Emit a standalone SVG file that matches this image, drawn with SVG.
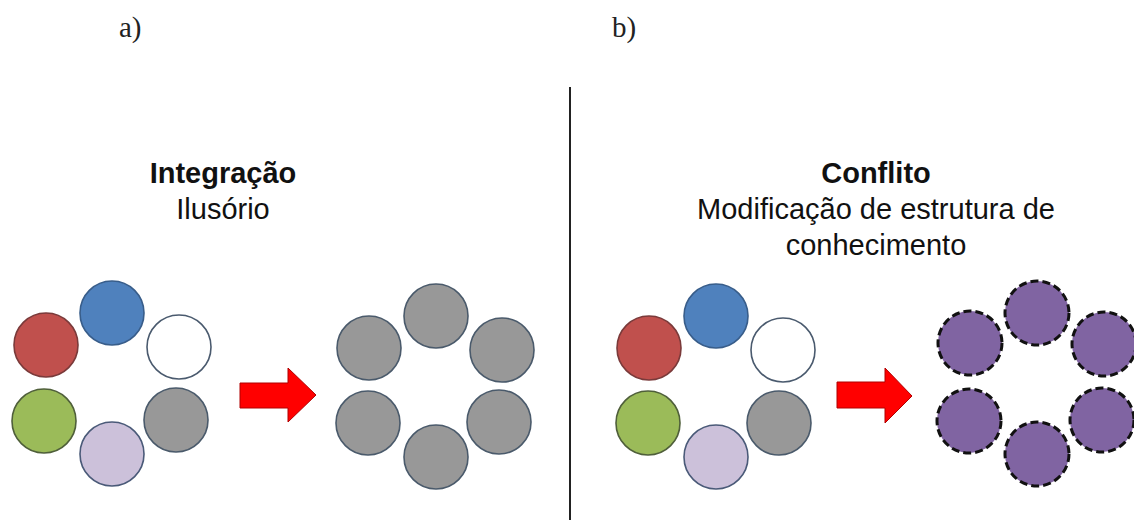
<svg xmlns="http://www.w3.org/2000/svg" width="1134" height="520" viewBox="0 0 1134 520">
<style>
.lbl{font-family:"Liberation Serif","DejaVu Serif",serif;font-size:29px;fill:#222}
.ttl{font-family:"Liberation Sans",Arial,sans-serif;font-size:29px;font-weight:bold;fill:#111;text-anchor:middle}
.sub{font-family:"Liberation Sans",Arial,sans-serif;font-size:29px;fill:#111;text-anchor:middle}
.c{stroke-width:1.6}
.blue{fill:#4F81BD;stroke:#385D8A}
.red{fill:#C0504D;stroke:#7a3a3a}
.white{fill:#ffffff;stroke:#4a5a6e}
.green{fill:#9BBB59;stroke:#4f5f3a}
.lav{fill:#CCC1DA;stroke:#4a5a78}
.gray{fill:#989898;stroke:#4a5a6b}
.pur{fill:#8064A2;stroke:#111;stroke-width:3;stroke-dasharray:8 4}
.arr{fill:#FF0000;stroke:#b00000;stroke-width:1}
</style>
<rect width="1134" height="520" fill="#fff"/>
<text class="lbl" x="119" y="37">a)</text>
<text class="lbl" x="612" y="37">b)</text>
<g id="divider"><line x1="570" y1="87" x2="570" y2="520" stroke="#222" stroke-width="2"/></g>
<g id="title-a"><text class="ttl" x="223" y="183">Integração</text><text class="sub" x="223" y="219">Ilusório</text></g>
<g id="title-b"><text class="ttl" x="876" y="183">Conflito</text><text class="sub" x="876" y="219">Modificação de estrutura de</text><text class="sub" x="876" y="255">conhecimento</text></g>
<g id="set-a-before">
<circle class="c blue" cx="112" cy="313" r="32"/>
<circle class="c red" cx="46" cy="345" r="32"/>
<circle class="c white" cx="179" cy="347" r="32"/>
<circle class="c green" cx="44" cy="421" r="32"/>
<circle class="c lav" cx="112" cy="454" r="32"/>
<circle class="c gray" cx="176" cy="420" r="32"/>
</g>
<g id="set-a-after">
<circle class="c gray" cx="436" cy="316" r="32"/>
<circle class="c gray" cx="369" cy="348" r="32"/>
<circle class="c gray" cx="502" cy="350" r="32"/>
<circle class="c gray" cx="368" cy="423" r="32"/>
<circle class="c gray" cx="499" cy="422" r="32"/>
<circle class="c gray" cx="436" cy="457" r="32"/>
</g>
<g id="set-b-before">
<circle class="c blue" cx="716" cy="316" r="32"/>
<circle class="c red" cx="649" cy="348" r="32"/>
<circle class="c white" cx="783" cy="350" r="32"/>
<circle class="c green" cx="648" cy="423" r="32"/>
<circle class="c lav" cx="716" cy="457" r="32"/>
<circle class="c gray" cx="779" cy="423" r="32"/>
</g>
<g id="set-b-after">
<circle class="pur" cx="1037" cy="313" r="32"/>
<circle class="pur" cx="970" cy="343" r="32"/>
<circle class="pur" cx="1104" cy="344" r="32"/>
<circle class="pur" cx="969" cy="421" r="32"/>
<circle class="pur" cx="1102" cy="420" r="32"/>
<circle class="pur" cx="1037" cy="454" r="32"/>
</g>
<g id="connectors">
<polygon class="arr" points="240,383 288,383 288,368 316,395 288,422 288,408 240,408"/>
<polygon class="arr" points="837,382 885,382 885,368 912,396 885,423 885,408 837,408"/>
</g>
</svg>
